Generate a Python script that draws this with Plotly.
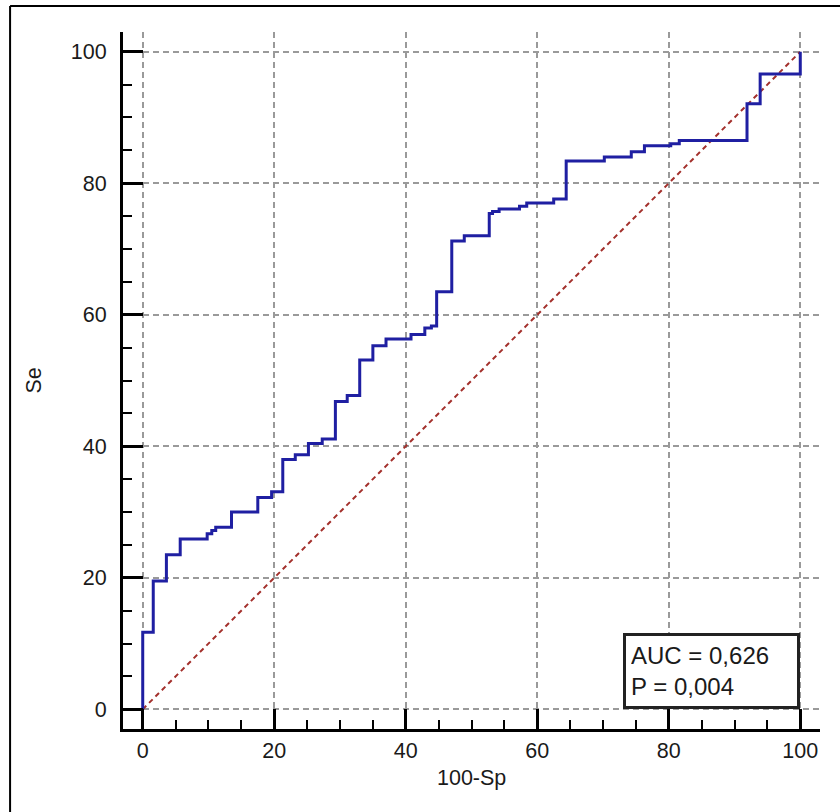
import plotly.graph_objects as go

# ROC curve step points (100-Sp, Se)
roc_x = [0, 0, 1.6, 3.6, 5.7, 9.8, 10.5, 11.1, 13.5, 17.5, 19.6, 21.3, 23.2, 25.2,
         27.3, 29.3, 31.1, 33.0, 35.0, 37.0, 40.8, 42.9, 43.9, 44.7, 47.0, 48.9,
         52.7, 53.2, 54.2, 57.3, 58.4, 62.5, 64.4, 70.2, 74.3, 76.3, 80.3, 81.6,
         91.9, 93.9, 100]
roc_y = [0, 11.7, 19.5, 23.5, 25.9, 26.7, 27.2, 27.7, 30.0, 32.2, 33.1, 38.0, 38.7, 40.4,
         41.1, 46.8, 47.7, 53.1, 55.3, 56.3, 57.0, 58.0, 58.3, 63.5, 71.2, 72.0,
         75.4, 75.7, 76.1, 76.5, 77.0, 77.6, 83.4, 84.0, 84.8, 85.7, 86.0, 86.5,
         92.1, 96.6, 100]
diag_x = [0, 100]
diag_y = [0, 100]
tick_vals = [0, 20, 40, 60, 80, 100]
x_title = "100-Sp"
y_title = "Se"
auc_text = "AUC = 0,626<br>P = 0,004"

FONT = "Liberation Sans, Arial, sans-serif"
TXT = "#1a1a1a"

fig = go.Figure()
fig.add_trace(go.Scatter(x=diag_x, y=diag_y, mode="lines",
                         line=dict(color="#a3302c", width=2, dash="5px,4px"),
                         hoverinfo="skip", showlegend=False))
fig.add_trace(go.Scatter(x=roc_x, y=roc_y, mode="lines", line_shape="hv",
                         line=dict(color="#1f1fa2", width=3), showlegend=False))

axis_common = dict(
    range=[-3, 103], tickvals=tick_vals, showline=True, linecolor="black", linewidth=3,
    ticks="inside", ticklen=20, tickwidth=3, tickcolor="black",
    showgrid=True, gridcolor="#9a9a9a", gridwidth=1.5, griddash="6px,4px",
    zeroline=False, mirror=False,
    tickfont=dict(family=FONT, size=21.5, color=TXT),
    minor=dict(dtick=5, ticks="inside", ticklen=9, tickwidth=2, tickcolor="black", showgrid=False),
)
fig.update_xaxes(**axis_common, ticklabelstandoff=0)
fig.update_yaxes(**axis_common, ticklabelstandoff=9)

fig.update_layout(
    width=840, height=812,
    margin=dict(l=123, r=20, t=32, b=83),
    paper_bgcolor="white", plot_bgcolor="white",
    font=dict(family=FONT, size=21.5, color=TXT),
    annotations=[
        dict(text=x_title, xref="paper", yref="paper", x=0.5, y=(729 - 778) / 697,
             xanchor="center", yanchor="middle", showarrow=False, font=dict(size=21.5)),
        dict(text=y_title, xref="paper", yref="paper", x=(33 - 123) / 697.5, y=0.5,
             xanchor="center", yanchor="middle", textangle=-90, showarrow=False, font=dict(size=21.5)),
        dict(text=auc_text, xref="x", yref="y", x=100, y=0, xanchor="right", yanchor="bottom",
             showarrow=False, align="left", valign="middle", width=161, height=60,
             bgcolor="white", bordercolor="#222", borderwidth=3, borderpad=5,
             font=dict(size=24, color=TXT)),
    ],
    shapes=[
        dict(type="line", xref="paper", yref="paper", x0=(10 - 123) / 697.5, x1=1.1,
             y0=(729 - 6) / 697, y1=(729 - 6) / 697, line=dict(color="black", width=2)),
        dict(type="line", xref="paper", yref="paper", x0=(10 - 123) / 697.5, x1=(10 - 123) / 697.5,
             y0=(729 - 6) / 697, y1=-0.2, line=dict(color="black", width=2)),
    ],
)
fig.write_html("out.html")
